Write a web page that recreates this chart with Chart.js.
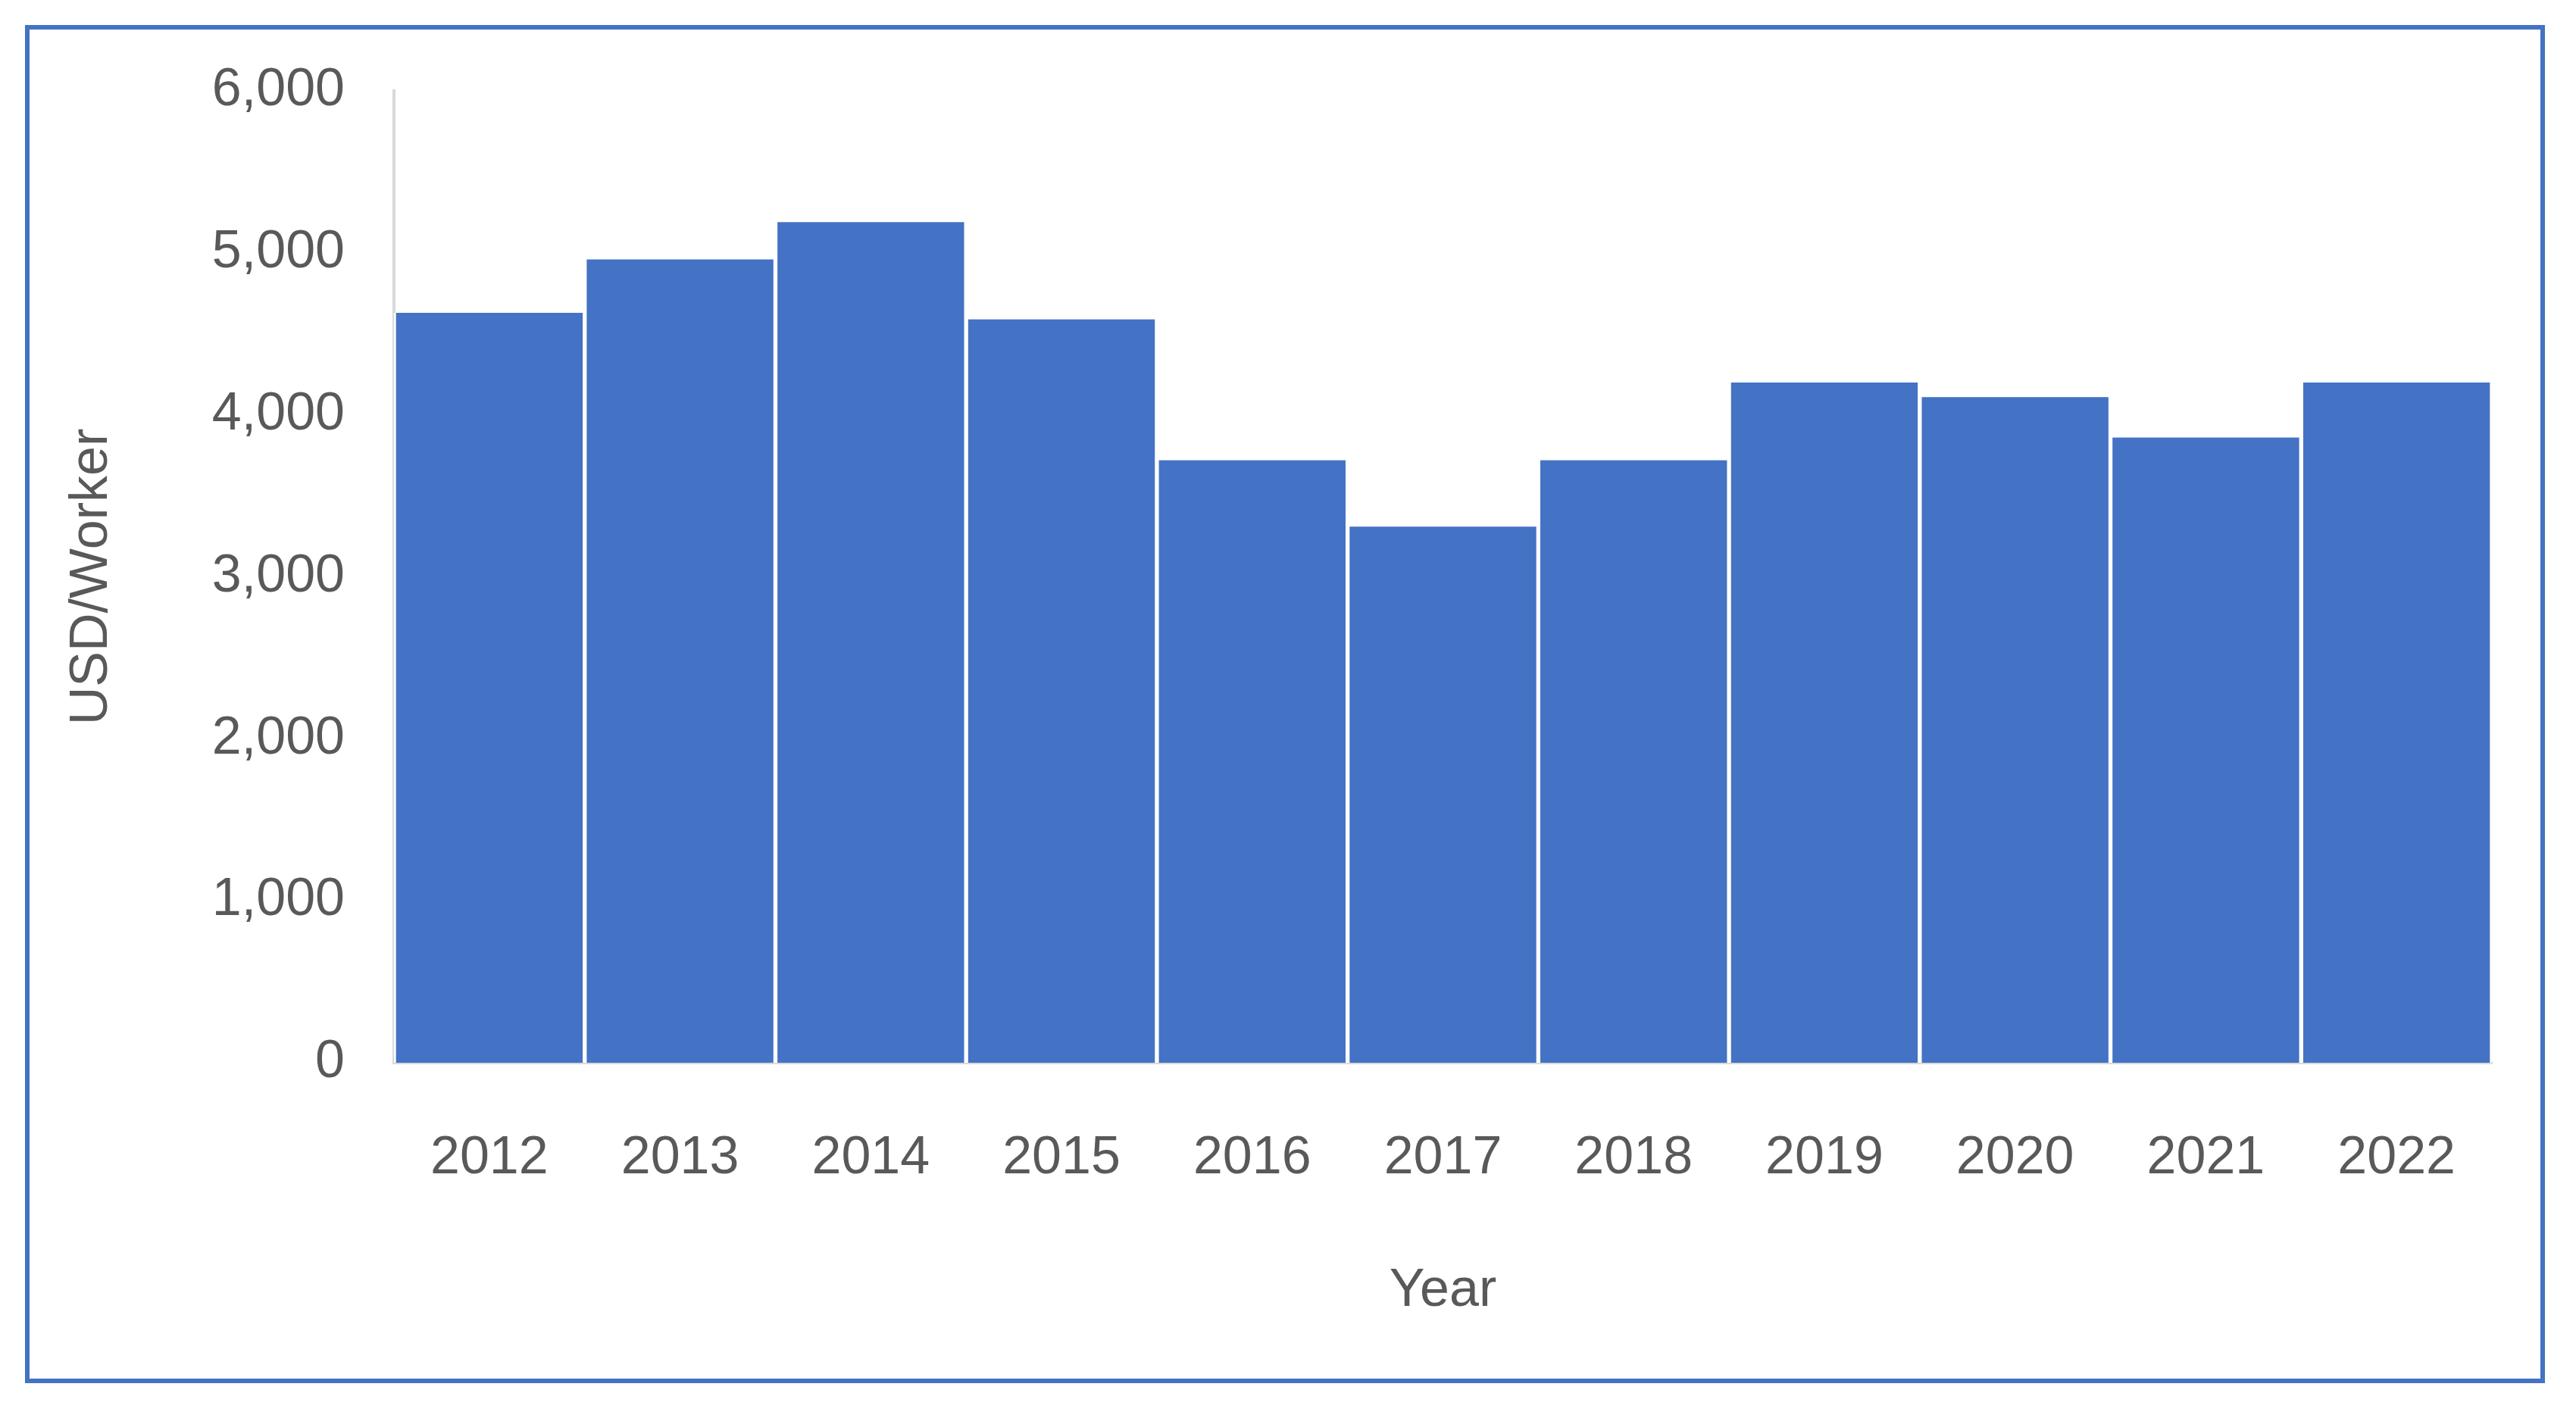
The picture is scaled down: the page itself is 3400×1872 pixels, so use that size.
<!DOCTYPE html>
<html><head><meta charset="utf-8">
<script src="https://cdn.jsdelivr.net/npm/chart.js@4/dist/chart.umd.min.js"></script>
<style>
html,body{margin:0;padding:0;background:#fff;width:3400px;height:1872px;overflow:hidden}
#frame{position:absolute;left:33px;top:33px;width:3326px;height:1793px;border:6px solid #4472C4;box-sizing:border-box}
canvas{position:absolute;left:0;top:0}
</style></head><body>
<div id="frame"></div>
<canvas id="c" width="3400" height="1872"></canvas>
<script>
const years = ["2012","2013","2014","2015","2016","2017","2018","2019","2020","2021","2022"];
const usdPerWorker = [4630,4960,5190,4590,3720,3310,3720,4200,4110,3860,4200];
const font = {family:"'Liberation Sans', Arial, sans-serif", size:70};
new Chart(document.getElementById('c'),{
  type:'bar',
  data:{labels:years,datasets:[{data:usdPerWorker,backgroundColor:'#4472C4',borderColor:'#ffffff',borderWidth:{left:3,right:3,top:0,bottom:0},barPercentage:1,categoryPercentage:1}]},
  options:{
    responsive:false,animation:false,
    layout:{padding:{left:80,right:111,top:120,bottom:0}},
    plugins:{legend:{display:false},tooltip:{enabled:false}},
    scales:{
      x:{grid:{display:false,drawTicks:false},border:{color:'#D9D9D9',width:4},
         ticks:{color:'#595959',font:font,padding:85},
         title:{display:true,text:'Year',color:'#595959',font:font,padding:{top:0,bottom:125}},
         afterFit:s=>{s.height=469;}},
      y:{min:0,max:6000,grid:{display:false,drawTicks:false},border:{color:'#D9D9D9',width:4},
         ticks:{stepSize:1000,color:'#595959',font:font,padding:65},
         title:{display:true,text:'USD/Worker',color:'#595959',font:font,padding:{top:0,bottom:0}},
         afterFit:s=>{s.width=440;}}
    }
  }
});
</script></body></html>
